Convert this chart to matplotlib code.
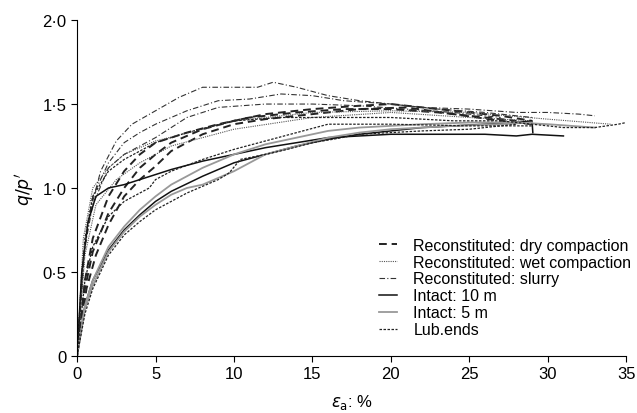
import numpy as np
import matplotlib
matplotlib.use("Agg")
import matplotlib.pyplot as plt

plt.rcParams['font.family'] = ['Liberation Sans', 'DejaVu Sans']

# courbes : (eps_a %, q/p')
dry_1 = [(0, 0), (0.5, 0.4), (1, 0.62), (2, 0.85), (3, 1.0), (4, 1.12), (5, 1.2), (6, 1.27), (8, 1.35),
         (10, 1.4), (12, 1.44), (15, 1.47), (18, 1.49), (20, 1.5), (22, 1.48), (25, 1.45), (27, 1.43), (29, 1.4)]
dry_2 = [(0, 0), (0.5, 0.45), (1, 0.7), (2, 0.95), (3, 1.1), (4, 1.2), (5, 1.27), (7, 1.33), (9, 1.38),
         (11, 1.42), (14, 1.45), (17, 1.47), (20, 1.47), (23, 1.45), (26, 1.42), (28, 1.4)]
dry_3 = [(0, 0), (0.6, 0.4), (1.2, 0.6), (2, 0.78), (3, 0.95), (4, 1.05), (5, 1.13), (6, 1.22), (8, 1.32),
         (10, 1.38), (12, 1.41), (15, 1.44), (18, 1.47), (21, 1.48), (24, 1.44), (27, 1.4), (29, 1.38)]

wet_1 = [(0, 0), (0.4, 0.7), (1, 1.0), (2, 1.12), (3, 1.2), (5, 1.28), (8, 1.35), (10, 1.4), (15, 1.45),
         (20, 1.46), (25, 1.45), (30, 1.41), (34, 1.38)]
wet_2 = [(0, 0), (0.5, 0.6), (1.2, 0.9), (2.5, 1.05), (4, 1.15), (6, 1.25), (10, 1.35), (15, 1.42),
         (20, 1.45), (25, 1.42), (29, 1.4)]

slurry_1 = [(0, 0), (0.3, 0.5), (0.8, 0.85), (1.5, 1.1), (2.5, 1.28), (3.5, 1.38), (5, 1.46), (6.5, 1.54),
            (8, 1.6), (10, 1.6), (11.5, 1.6), (12.5, 1.63), (14, 1.6), (16, 1.55), (18, 1.52), (20, 1.5),
            (22, 1.48), (25, 1.47), (28, 1.45), (30, 1.45), (32, 1.44), (33, 1.43)]
slurry_2 = [(0, 0), (0.4, 0.6), (1, 0.95), (2, 1.15), (3, 1.27), (4, 1.33), (5, 1.38), (7, 1.46), (9, 1.52),
            (11, 1.53), (13, 1.56), (15, 1.55), (17, 1.52), (20, 1.5), (23, 1.47), (26, 1.45), (29, 1.42)]
slurry_3 = [(0, 0), (0.5, 0.65), (1, 0.9), (2, 1.12), (3, 1.2), (5, 1.3), (7, 1.42), (9, 1.48), (12, 1.5),
            (15, 1.5), (18, 1.49), (21, 1.47), (24, 1.45), (27, 1.42)]

intact10_1 = [(0, 0), (0.3, 0.5), (0.7, 0.8), (1.2, 0.95), (2, 1.0), (3, 1.02), (4, 1.05), (5, 1.08),
              (6, 1.11), (8, 1.16), (10, 1.2), (12, 1.24), (14, 1.27), (16, 1.3), (18, 1.31), (20, 1.32),
              (22, 1.32), (24, 1.32), (26, 1.32), (28, 1.31), (29, 1.32), (31, 1.31)]
intact10_2 = [(0, 0), (0.5, 0.3), (1, 0.45), (2, 0.63), (3, 0.75), (4, 0.84), (5, 0.92), (6, 0.98),
              (8, 1.07), (10, 1.15), (12, 1.2), (14, 1.25), (16, 1.29), (18, 1.32), (20, 1.34), (22, 1.36),
              (24, 1.37), (26, 1.38), (28, 1.39), (29, 1.4), (29.05, 1.33)]

intact5_1 = [(0, 0), (0.5, 0.3), (1, 0.45), (2, 0.65), (3, 0.77), (4, 0.87), (5, 0.95), (6, 1.02),
             (8, 1.12), (10, 1.2), (12, 1.26), (14, 1.3), (16, 1.34), (18, 1.36), (20, 1.37), (22, 1.38),
             (25, 1.39), (28, 1.39), (30, 1.38), (33, 1.36)]
intact5_2 = [(0, 0), (0.5, 0.28), (1, 0.42), (2, 0.62), (3, 0.74), (4, 0.83), (5, 0.9), (6, 0.96), (7, 1.0),
             (8, 1.02), (9, 1.06), (10, 1.1), (11, 1.15), (12, 1.2), (14, 1.25), (16, 1.3), (18, 1.33),
             (20, 1.35), (22, 1.36), (24, 1.37), (27, 1.38), (29, 1.39)]

lub_1 = [(0, 0), (0.5, 0.25), (1, 0.4), (2, 0.6), (3, 0.72), (4, 0.8), (5, 0.87), (6, 0.92), (7, 0.97),
         (8, 1.01), (9, 1.05), (9.7, 1.09), (10.4, 1.17), (12, 1.2), (13.4, 1.23), (15, 1.27), (16.3, 1.29),
         (18, 1.32), (20, 1.33), (22, 1.34), (25, 1.35), (28, 1.38)]
lub_2 = [(0, 0), (0.5, 0.45), (1, 0.65), (2, 0.83), (3, 0.92), (4.6, 1.0), (5, 1.05), (6, 1.1), (8, 1.17),
         (10, 1.23), (12, 1.28), (14, 1.33), (16, 1.38), (18, 1.38), (20, 1.38), (25, 1.37), (29, 1.37)]
lub_3 = [(0, 0), (0.5, 0.7), (1, 0.95), (2, 1.1), (3, 1.17), (5, 1.27), (7, 1.33), (10, 1.4), (13, 1.42),
         (16, 1.42), (20, 1.42), (24, 1.4), (27, 1.4), (29, 1.38), (31, 1.36), (33, 1.36), (34.5, 1.38), (35, 1.39)]

groups = [
    ("Reconstituted: dry compaction", [dry_1, dry_2, dry_3], dict(color='#222222', lw=1.4, ls=(0, (4, 2.5)))),
    ("Reconstituted: wet compaction", [wet_1, wet_2], dict(color='#555555', lw=0.8, ls=(0, (1, 1)))),
    ("Reconstituted: slurry", [slurry_1, slurry_2, slurry_3], dict(color='#333333', lw=0.8, ls=(0, (5, 2, 1, 2)))),
    ("Intact: 10 m", [intact10_1, intact10_2], dict(color='#111111', lw=1.1, ls='-')),
    ("Intact: 5 m", [intact5_1, intact5_2], dict(color='#999999', lw=1.3, ls='-')),
    ("Lub.ends", [lub_1, lub_2, lub_3], dict(color='#222222', lw=0.9, ls=(0, (2, 1.2)))),
]

fig = plt.figure(figsize=(6.37, 4.14), dpi=100)
ax = fig.add_axes([0.121, 0.138, 0.862, 0.811])

for label, curves, style in groups:
    for i, c in enumerate(curves):
        c = np.array(c)
        ax.plot(c[:, 0], c[:, 1], label=label if i == 0 else None, **style)

ax.set_xlim(0, 35)
ax.set_ylim(0, 2.0)
ax.set_xticks(range(0, 36, 5))
ax.set_yticks([0, 0.5, 1.0, 1.5, 2.0])
ax.set_yticklabels(["0", "0·5", "1·0", "1·5", "2·0"])
ax.spines['top'].set_visible(False)
ax.spines['right'].set_visible(False)
ax.tick_params(direction='out', length=4, labelsize=12, color='black')
ax.set_xlabel(r"$\varepsilon_{\rm a}$: %", fontsize=12, labelpad=8)
ax.set_ylabel(r"$q/p'$", fontsize=12.5, labelpad=5)

ax.legend(loc='lower left', bbox_to_anchor=(0.595, 0.183), bbox_transform=fig.transFigure,
          frameon=False, fontsize=11.5, borderpad=0, borderaxespad=0,
          handlelength=1.15, handletextpad=1.0, labelspacing=0.12)

fig.savefig("out.png", dpi=100)
